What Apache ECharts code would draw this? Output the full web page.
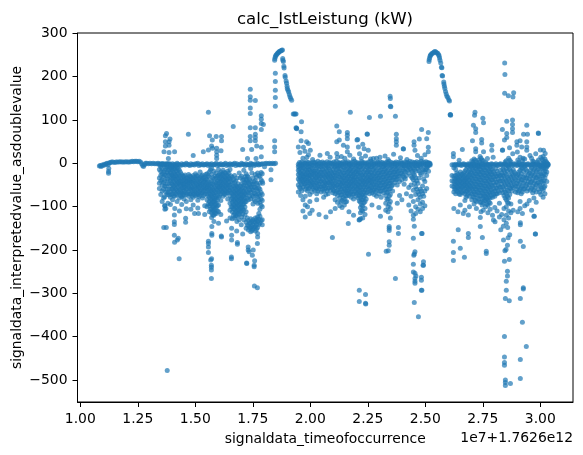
<!DOCTYPE html>
<html>
<head>
<meta charset="utf-8">
<style>html,body{margin:0;padding:0;background:#fff}#chart{width:583px;height:455px}</style>
<script src="https://cdn.jsdelivr.net/npm/echarts@6/dist/echarts.min.js"></script>
</head>
<body>
<div id="chart"></div>
<script>
// Time is in units of 1e7 ms on top of the 1.7626e12 offset; values are kW.
const xTicks = [1.00, 1.25, 1.50, 1.75, 2.00, 2.25, 2.50, 2.75, 3.00];
const yTicks = [-500, -400, -300, -200, -100, 0, 100, 200, 300];

// Idle stretch before the first operating block
const idleStart = [[1.083,-6],[1.087,-5],[1.091,-7],[1.095,-4],[1.100,-5],[1.104,-2],[1.108,-3],[1.113,-1],[1.117,0],[1.121,-3],[1.123,-19],[1.123,-23],[1.124,-12],[1.126,1],[1.130,2],[1.136,3],[1.142,3],[1.149,2],[1.155,3],[1.161,3],[1.168,3],[1.174,4],[1.181,3],[1.187,3],[1.194,3],[1.200,4],[1.207,3],[1.213,3],[1.220,4],[1.226,5],[1.232,4],[1.238,5],[1.244,5],[1.250,4],[1.256,5],[1.262,3],[1.267,-1],[1.271,-5],[1.275,-7],[1.279,-3],[1.283,0],[1.289,0],[1.296,-1],[1.303,0],[1.310,-1],[1.317,0],[1.324,-1],[1.331,-1],[1.338,0],[1.345,-1],[1.352,-2],[1.358,-1],[1.367,-1],[1.377,-2],[1.387,-1]];

// Vertical strips: [time, [values at that time]]
const blockOne = [
[1.344,[-3,-14,-34,-46,-58]],[1.350,[-2,-8,-19,-28,-40,-72]],[1.356,[-1,-12,-24,-38,-50,-64,-88]],
[1.362,[-3,-20,-31,-44,-60,-80]],[1.367,[-4,-16,-27,-41,-53,-77,-98]],[1.372,[-2,-12,-28,-52,-66,-104]],[1.377,[-1,-8,-20,-36,-47,-60,-72]],
[1.381,[-1,-10,-22,-36,-68,-92]],[1.392,[-2,-10,-20,-30,-40,-52,-66,-78,-95]],[1.401,[-1,-8,-16,-27,-36,-48,-58,-70,-84]],
[1.411,[-2,-12,-24,-33,-44,-54,-65,-76,-104]],[1.421,[0,-9,-18,-30,-41,-50,-62,-72,-88]],
[1.431,[-3,-16,-28,-39,-47,-59,-69,-80,-110]],[1.441,[-1,-26,-36,-46,-57,-68,-77,-95]],
[1.451,[-2,-30,-39,-47,-56,-64,-73,-82]],[1.461,[0,-34,-42,-50,-60,-72,-88,-105]],
[1.471,[-3,-26,-36,-44,-54,-65,-76]],[1.481,[-1,-31,-41,-51,-60,-70,-84,-106]],
[1.491,[-2,-28,-38,-47,-58,-68,-78,-96]],[1.501,[-1,-24,-34,-45,-55,-66,-75]],
[1.511,[0,-30,-42,-52,-62,-72,-85,-103]],[1.521,[-2,-20,-33,-44,-53,-64,-74]],
[1.531,[-1,-27,-37,-47,-57,-68,-80]],[1.541,[-3,-31,-40,-50,-60,-71,-98,-118]],
[1.551,[-1,-24,-38,-49,-58,-70,-84,-100]],[1.561,[-2,-20,-32,-48,-58,-68,-78,-88,-98,-112]],
[1.571,[-1,-12,-25,-40,-54,-64,-74,-84,-94,-104,-114,-125]],[1.581,[-3,-18,-36,-50,-62,-72,-82,-90,-100,-110,-120,-134]],
[1.591,[0,-22,-34,-46,-58,-68,-80,-92,-102,-116]],[1.601,[-2,-14,-28,-38,-48,-56,-66,-78,-96,-112,-138]],
[1.611,[-1,-20,-30,-40,-50,-60,-70,-86,-118]],[1.621,[-3,-16,-26,-36,-46,-56,-66,-76]],
[1.631,[0,-22,-33,-43,-53,-63,-72]],[1.641,[-2,-18,-28,-38,-48,-58,-68,-82]],
[1.651,[-1,-14,-36,-50,-62,-74,-92,-108,-126]],[1.661,[-2,-32,-46,-60,-70,-80,-90,-100,-112,-128]],
[1.671,[0,-28,-44,-56,-66,-76,-86,-96,-106,-116,-126]],[1.681,[-1,-34,-52,-62,-72,-82,-92,-102,-112,-122,-134]],
[1.691,[-3,-22,-58,-68,-78,-88,-98,-108,-118,-130]],[1.701,[0,-30,-48,-60,-70,-80,-90,-100,-110,-124]],
[1.711,[-2,-16,-38,-50,-64,-74,-84,-94,-108,-130]],[1.721,[-1,-24,-36,-46,-60,-72,-88,-112,-136,-150]],
[1.731,[-3,-32,-44,-56,-68,-84,-132,-144,-154]],[1.741,[0,-12,-42,-54,-66,-82,-128,-138,-150,-158]],
[1.751,[-2,-34,-48,-62,-76,-94,-130,-142,-152]],[1.761,[-1,-26,-40,-56,-70,-88,-126,-136,-146,-156]],
[1.771,[0,-22,-50,-64,-78,-92,-124,-134,-148]],[1.781,[-2,-30,-46,-60,-74,-90,-106,-122,-138]],
[1.791,[-1,-24,-42,-72,-86,-100,-130,-142]],[1.801,[-1,-8]],[1.808,[0]],[1.815,[-1]],[1.822,[0]],[1.829,[-1,-15,-38]],[1.836,[0]],[1.843,[-1]],[1.849,[0]]
];

// Heavier-populated strips in between, where readings overlap into a solid band
const blockOneDense = [
[1.386,[-4,-15,-27,-46,-59,-73]],[1.396,[-5,-14,-25,-35,-46,-60,-72]],[1.406,[-3,-12,-22,-32,-42,-53,-63,-75]],
[1.416,[-4,-7,-19,-29,-38,-49,-59,-71]],[1.426,[-2,-13,-24,-35,-45,-55,-66]],[1.436,[-5,-21,-33,-43,-52,-63,-74]],
[1.446,[-3,-30,-40,-49,-55,-65,-73]],[1.456,[-4,-27,-37,-47,-56,-67]],[1.466,[-2,-33,-42,-48,-58,-69]],
[1.476,[-5,-29,-39,-47,-58,-71]],[1.486,[-3,-35,-44,-55,-64,-74]],[1.496,[-4,-32,-42,-52,-63,-72]],
[1.506,[-2,-28,-38,-49,-59,-70]],[1.516,[-5,-36,-47,-57,-67,-77]],[1.526,[-3,-29,-39,-49,-59,-69]],
[1.536,[-4,-33,-43,-54,-64,-75]],[1.546,[-2,-26,-36,-45,-55,-65]],[1.556,[-5,-29,-43,-54,-64,-75,-94]],
[1.566,[-3,-15,-44,-52,-63,-73,-83,-93,-106]],[1.576,[-4,-33,-47,-59,-69,-79,-89,-99,-109,-119]],[1.586,[-2,-29,-44,-56,-67,-77,-87,-96,-106,-115]],
[1.596,[-5,-30,-41,-52,-62,-74,-85,-98,-110]],[1.606,[-3,-24,-34,-44,-54,-64,-75]],[1.616,[-4,-25,-35,-45,-55,-65]],
[1.626,[-2,-21,-31,-41,-51,-61,-71]],[1.636,[-5,-28,-38,-48,-58,-67]],[1.646,[-3,-23,-33,-43,-53,-63]],
[1.656,[-4,-29,-42,-56,-68,-83,-100]],[1.666,[-2,-38,-53,-65,-75,-85,-95,-105,-120]],[1.676,[-5,-40,-51,-61,-71,-81,-91,-101,-111,-121]],
[1.686,[-3,-47,-57,-67,-77,-87,-97,-107,-117]],[1.696,[-4,-33,-53,-63,-73,-83,-93,-103,-113]],[1.706,[-2,-39,-54,-65,-75,-85,-95,-105,-117]],
[1.716,[-5,-31,-44,-57,-69,-79,-89,-101,-119]],[1.726,[-3,-29,-41,-53,-66,-80,-126,-143]],[1.736,[-4,-38,-50,-62,-76,-137,-148]],
[1.746,[-2,-22,-48,-60,-74,-134,-146,-155]],[1.756,[-5,-43,-55,-69,-84,-135,-147]],[1.766,[-3,-32,-46,-60,-74,-130,-141,-152]],
[1.776,[-4,-28,-57,-70,-84,-116,-129,-141]],[1.786,[-2,-21,-38,-67,-82,-97,-132]]
];

const blockOneOutliers = [[1.375,69],[1.370,64],[1.390,56],[1.370,50],[1.386,50],[1.370,40],[1.386,42],[1.364,27],[1.386,25],[1.410,27],[1.383,11],[1.470,67],[1.491,18],[1.535,27],[1.557,118],[1.562,64],[1.574,54],[1.591,62],[1.614,62],[1.614,52],[1.571,40],[1.593,35],[1.612,29],[1.593,27],[1.593,19],[1.593,11],[1.557,31],[1.575,35],[1.665,85],[1.706,32],[1.739,171],[1.739,154],[1.739,146],[1.761,145],[1.739,128],[1.739,115],[1.787,110],[1.787,102],[1.787,92],[1.796,90],[1.787,78],[1.739,82],[1.761,82],[1.761,67],[1.761,60],[1.739,62],[1.739,52],[1.761,52],[1.745,32],[1.767,40],[1.787,37],[1.727,11],[1.764,11],[1.787,15],[1.845,52],[1.845,38],[1.845,27],[1.793,-46],[1.363,-148],[1.368,-98],[1.368,-106],
[1.378,-478],[1.374,-148],[1.409,-119],[1.409,-135],[1.409,-141],[1.458,-127],[1.458,-136],[1.409,-166],[1.410,-182],[1.422,-177],[1.426,-173],[1.430,-220],[1.497,-116],[1.514,-116],[1.557,-180],[1.557,-185],[1.557,-193],[1.557,-206],[1.571,-220],[1.567,-223],[1.570,-235],[1.570,-240],[1.570,-246],[1.570,-266],[1.572,-162],[1.572,-166],[1.572,-146],[1.614,-170],[1.613,-168],[1.636,-133],[1.657,-216],[1.657,-220],[1.658,-177],[1.658,-166],[1.658,-150],[1.683,-183],[1.683,-187],[1.680,-156],[1.700,-142],[1.706,-163],[1.723,-230],[1.724,-231],[1.730,-193],[1.730,-200],[1.734,-204],[1.752,-200],[1.748,-212],[1.758,-225],[1.756,-235],[1.756,-239],[1.770,-185],[1.757,-283],[1.770,-287],[1.771,-162],[1.771,-170]];

// First power peak and its decay
const peakOne = [[1.848,208],[1.848,189],[1.848,169],[1.848,152],[1.848,132],[1.845,238],[1.846,242],[1.848,246],[1.850,249],[1.853,251],[1.856,253],[1.859,255],[1.862,256],[1.865,258],[1.869,259],[1.872,260],[1.876,261],[1.879,262],[1.880,242],[1.881,238],[1.883,235],[1.885,224],[1.886,220],[1.890,203],[1.891,199],[1.895,190],[1.897,185],[1.899,178],[1.900,173],[1.903,169],[1.906,165],[1.909,159],[1.912,154],[1.915,150],[1.919,146],[1.926,114],[1.930,114],[1.934,114],[1.938,114],[1.940,81],[1.941,80],[1.938,82]];

const blockTwo = [
[1.948,[-2,-8,-16,-26,-36,-50,-66]],[1.958,[-1,-12,-22,-34,-44,-58,-74]],[1.968,[-3,-10,-24,-32,-42,-54,-84,-110]],
[1.978,[0,-14,-26,-38,-48,-60,-76,-96,-124]],[1.988,[-2,-9,-20,-30,-40,-52,-64,-100]],[1.998,[-1,-16,-28,-36,-46,-56,-72,-88,-116]],
[2.008,[-3,-12,-22,-32,-44,-54,-66,-108]],[2.018,[0,-18,-28,-38,-50,-62]],[2.028,[-2,-10,-24,-34,-46,-58,-70,-84]],
[2.038,[-1,-14,-26,-36,-48,-60,-118]],[2.048,[-2,-8,-20,-30,-42,-54,-66]],[2.058,[0,-16,-28,-40,-52,-64,-78]],
[2.068,[-3,-12,-24,-34,-46,-56,-72,-124]],[2.078,[-1,-10,-22,-32,-44,-58,-70]],[2.088,[0,-18,-30,-40,-50,-62,-112]],
[2.098,[-2,-14,-26,-36,-48,-60,-68]],[2.108,[-1,-8,-22,-34,-46,-56,-70,-84,-104]],[2.118,[-3,-12,-24,-36,-50,-62,-74,-90]],
[2.128,[0,-6,-20,-32,-44,-54,-66,-80,-98]],[2.138,[-2,-16,-28,-38,-48,-60,-72,-86,-102]],[2.148,[-1,-10,-22,-34,-46,-58,-68,-82,-96]],
[2.158,[0,-14,-26,-36,-46,-56,-66,-76,-88]],[2.168,[-2,-8,-18,-30,-42,-52,-64,-74,-112]],[2.178,[-1,-12,-24,-34,-44,-54,-66,-78]],
[2.188,[-3,-16,-26,-36,-46,-58,-70,-82,-120]],[2.198,[0,-10,-20,-32,-44,-54,-66,-76]],[2.208,[-2,-14,-24,-36,-48,-58,-68,-80]],
[2.218,[-1,-8,-22,-34,-44,-56,-68,-78,-90,-102,-114,-128]],[2.228,[0,-12,-26,-38,-48,-60,-72,-84,-98,-110,-126]],[2.238,[-2,-16,-28,-40,-50,-62,-74,-88,-104,-118]],
[2.248,[-1,-10,-20,-32,-42,-54,-66]],[2.258,[-3,-14,-26,-36,-46,-58,-70]],[2.268,[0,-8,-22,-34,-44,-56,-68,-96]],
[2.278,[-2,-12,-24,-36,-48,-60,-72]],[2.288,[-1,-16,-28,-38,-50,-62,-76]],[2.298,[0,-10,-22,-34,-46,-58,-70,-102]],
[2.308,[-2,-14,-26,-38,-50,-64,-78]],[2.318,[-1,-8,-20,-32,-44,-56,-68]],[2.328,[-3,-12,-24,-36,-48,-60,-74,-92,-108]],
[2.338,[0,-16,-28,-40,-52,-66,-82,-100,-112]],[2.348,[-2,-10,-22,-34,-46,-58,-72,-88,-104,-126]],[2.358,[-1,-14,-26,-38,-50,-64]],
[2.368,[0,-8,-20,-32,-44]],[2.378,[-2,-12,-24,-36,-50,-92]],[2.388,[-1,-16,-30,-42,-74]],
[2.398,[0,-10,-24,-38,-84]],[2.408,[-2,-6,-18,-32,-48]],[2.418,[-1,-12,-28,-70]],[2.428,[0,-8,-22,-56,-96]],
[2.438,[-2,-14,-30,-50,-76,-110]],[2.448,[-1,-10,-24,-38,-62,-88,-120]],[2.458,[0,-6,-18,-34,-54,-72,-100,-116]],
[2.468,[-2,-12,-46,-66,-84,-106]],[2.478,[-1,-8,-22,-60,-78,-94,-112]],[2.488,[0,-14,-52,-70,-90,-104]],
[2.498,[-2,-20,-42,-64,-98]],[2.506,[-1,-10,-28,-58]],[2.514,[0,-5,-18]],[2.521,[-1,-4]]
];

const blockTwoDense = [
[1.953,[2,-5,-13,-21,-31,-41,-55]],[1.963,[3,-6,-17,-28,-38,-49,-63]],[1.973,[1,-7,-19,-29,-37,-47]],
[1.983,[4,-4,-16,-25,-34,-44,-55]],[1.993,[2,-7,-14,-25,-35,-45,-59]],[2.003,[1,-8,-19,-27,-41,-50]],
[2.013,[3,-6,-17,-26,-37,-47,-58]],[2.023,[2,-5,-15,-23,-33,-44,-56]],[2.033,[5,-6,-19,-29,-41,-52,-64]],
[2.043,[2,-7,-20,-31,-42,-54]],[2.053,[3,-5,-14,-25,-36,-47,-59]],[2.063,[1,-6,-20,-31,-43,-51,-60]],
[2.073,[4,-7,-18,-28,-39,-49,-63]],[2.083,[2,-5,-14,-26,-36,-45,-56]],[2.093,[1,-8,-22,-33,-44,-55]],
[2.103,[3,-6,-19,-30,-41,-52,-63]],[2.113,[5,-5,-15,-28,-40,-51,-65]],[2.123,[2,-7,-18,-30,-43,-56,-68]],
[2.133,[1,-4,-13,-26,-38,-49,-60,-73,-89]],[2.143,[3,-7,-22,-33,-43,-53,-65,-79]],[2.153,[2,-5,-16,-28,-40,-52,-63,-75,-89]],
[2.163,[4,-6,-20,-31,-41,-51,-61,-71]],[2.173,[1,-4,-14,-24,-36,-47,-58,-69]],[2.183,[3,-7,-18,-29,-39,-49,-60,-72]],
[2.193,[5,-6,-21,-31,-41,-52,-64]],[2.203,[2,-5,-15,-26,-38,-49,-60,-71]],[2.213,[1,-8,-19,-30,-42,-53,-63,-74,-87]],
[2.223,[4,-4,-15,-28,-39,-50,-62,-73,-84,-96,-108]],[2.233,[2,-6,-20,-32,-43,-54,-66,-78,-91]],[2.243,[1,-7,-22,-34,-45,-56,-68,-82]],
[2.253,[3,-5,-15,-26,-37,-48,-60]],[2.263,[5,-7,-20,-31,-41,-52,-63]],[2.273,[2,-4,-15,-28,-39,-50,-62]],
[2.283,[1,-6,-18,-30,-42,-54,-66]],[2.293,[3,-5,-22,-33,-44,-56]],[2.303,[4,-4,-16,-28,-40,-52,-64]],
[2.313,[2,-7,-20,-32,-44,-57]],[2.323,[1,-4,-14,-26,-38,-50,-62]],[2.333,[3,-6,-18,-30,-42,-54,-67,-83]],
[2.343,[5,-5,-22,-34,-46,-60,-76,-94]],[2.353,[2,-6,-16,-28,-40,-52]],[2.363,[1,-5,-20,-32]],
[2.373,[3,-4,-14,-26,-38]],[2.383,[2,-6,-18,-30]],[2.393,[4,-5,-22]],
[2.403,[1,-4,-14,-28]],[2.413,[3,-6,-20,-36]],[2.423,[2,-5,-16]],[2.433,[5,-4,-12]],
[2.443,[3,-5,-19,-34]],[2.453,[2,-4,-14,-28,-46]],[2.463,[4,-6,-40,-60]],
[2.473,[2,-5,-17,-34,-72]],[2.483,[5,-4,-26,-64]],[2.493,[3,-5,-16,-36,-76]],[2.503,[4,-3,-14]],[2.510,[2,-3,-8]],[2.518,[1,-2]]
];

const blockTwoOutliers = [[1.962,96],[1.960,73],[1.960,52],[1.984,50],[1.992,46],[1.948,38],[1.970,37],[2.000,30],[1.992,20],[1.968,12],[1.955,25],[1.977,28],[1.985,14],[2.010,9],[2.042,19],[2.074,23],[2.086,14],[2.115,86],[2.126,73],[2.161,71],[2.161,65],[2.161,57],[2.126,54],[2.115,50],[2.174,118],[2.257,106],[2.305,109],[2.348,132],[2.350,131],[2.370,109],[2.248,67],[2.247,68],[2.203,54],[2.206,55],[2.228,44],[2.234,34],[2.252,30],[2.144,42],[2.161,38],[2.161,27],[2.209,38],[2.405,33],[2.404,34],[2.374,67],[2.374,57],[2.374,50],[2.374,42],[2.451,50],[2.451,42],[2.474,56],[2.484,78],[2.513,71],[2.506,57],[2.513,37],[2.513,27],[2.455,30],[2.115,23],[2.274,11],[2.303,14],[2.325,17],[2.348,150],[2.347,155],[2.118,14],[2.135,16],[2.150,12],[2.172,19],[2.188,10],[2.214,22],[2.222,12],[2.240,17],[2.262,10],[2.288,12],[2.338,9],[2.362,21],[2.392,13],[2.420,9],[2.466,18],[2.482,12],[2.498,20],
[2.096,-171],[2.165,-139],[2.214,-130],[2.212,-131],[2.253,-210],[2.213,-293],[2.240,-303],[2.213,-319],[2.240,-323],[2.241,-325],[2.305,-122],[2.343,-146],[2.343,-150],[2.343,-155],[2.383,-148],[2.383,-162],[2.343,-181],[2.343,-189],[2.339,-202],[2.330,-203],[2.370,-266],[2.448,-129],[2.452,-145],[2.448,-173],[2.484,-162],[2.486,-162],[2.455,-204],[2.450,-212],[2.452,-209],[2.448,-233],[2.492,-227],[2.492,-235],[2.490,-235],[2.448,-251],[2.455,-254],[2.459,-260],[2.455,-266],[2.455,-272],[2.455,-277],[2.483,-263],[2.483,-270],[2.483,-293],[2.485,-293],[2.452,-321],[2.470,-354]];

// Second power peak and its decay
const peakTwo = [[2.516,235],[2.517,240],[2.519,244],[2.521,248],[2.523,250],[2.526,252],[2.530,254],[2.534,255],[2.538,257],[2.542,258],[2.546,257],[2.550,255],[2.554,254],[2.558,251],[2.560,248],[2.562,243],[2.564,238],[2.567,232],[2.570,222],[2.572,221],[2.573,203],[2.575,202],[2.580,188],[2.581,183],[2.583,178],[2.585,173],[2.588,166],[2.591,160],[2.594,155],[2.598,152],[2.602,147],[2.605,144],[2.608,112],[2.610,111],[2.609,113]];

const blockThree = [
[2.616,[-3,-28,-40,-52]],[2.624,[-3,-10,-30,-42,-54,-66,-104]],[2.632,[-2,-14,-28,-38,-48,-58,-70]],[2.642,[-4,-26,-36,-46,-56,-66,-112]],
[2.652,[-3,-20,-30,-40,-50,-60,-72,-96]],[2.662,[-2,-26,-36,-46,-56,-68]],[2.672,[-3,-18,-28,-38,-48,-58,-70,-86,-108]],
[2.682,[-4,-8,-24,-34,-44,-54,-64,-74]],[2.692,[-2,-14,-26,-38,-50,-60,-76,-100]],[2.702,[-3,6,-10,-22,-34,-46,-58,-70,-84]],
[2.712,[-2,10,-6,-18,-30,-42,-54,-66,-78,-94]],[2.722,[-3,4,-12,-24,-36,-48,-60,-72,-88,-104]],[2.732,[-4,8,-8,-20,-32,-44,-56,-68,-82]],
[2.742,[-2,12,-14,-26,-38,-50,-62,-74,-90,-112]],[2.752,[-3,6,-10,-22,-34,-46,-58,-70,-80,-92,-108]],[2.762,[-4,2,-16,-28,-40,-52,-64,-76,-86,-100]],
[2.772,[-2,-12,-24,-36,-48,-60,-72,-84,-96,-114]],[2.782,[-3,-8,-20,-32,-44,-56,-68,-80,-92,-106]],[2.792,[-2,-14,-26,-38,-52,-66,-78,-120]],
[2.802,[-3,-24,-36,-50,-64,-76,-102]],[2.812,[-4,-18,-30,-44,-58,-70,-110]],[2.822,[-2,-28,-40,-54,-68,-92,-124]],
[2.832,[-3,-22,-34,-48,-62,-118]],[2.842,[-2,-16,-30,-44,-60,-74,-104,-130]],[2.852,[-4,6,-12,-26,-40,-54,-70,-84,-100,-120,-138]],
[2.862,[-3,12,-8,-36,-50,-64,-80,-92,-110,-126]],[2.872,[-2,4,-18,-32,-46,-58,-94,-114]],[2.882,[-3,-14,-28,-42,-56,-108]],
[2.892,[-2,-24,-38,-52,-66]],[2.902,[-4,8,-26,-40,-54,-68,-112]],[2.912,[-3,14,-16,-30,-44,-60,-88,-104]],
[2.922,[-2,6,-12,-38,-52,-66,-116]],[2.932,[-3,10,-8,-28,-42,-58,-98]],[2.942,[-2,-18,-34,-48,-64,-94]],
[2.952,[-4,-22,-36,-50,-86]],[2.962,[-3,12,-10,-26,-42,-58,-108]],[2.972,[-2,4,-14,-30,-46,-62,-80,-122]],
[2.982,[-3,-20,-34,-50,-66,-90]],[2.992,[-2,8,-12,-28,-44,-60]],[3.002,[-4,14,-8,-24,-38,-54,-72]],
[3.012,[-3,16,6,-14,-30,-46,-62,-78]],[3.020,[-2,10,-6,-18,-34,-52,-70]],[3.028,[-3,2,-8,-20,-42]],[3.034,[-2,-4]]
];

const blockThreeDense = [
[2.628,[-5,-35,-47,-60]],[2.637,[-4,-22,-33,-43,-53,-63]],[2.647,[-1,-31,-41,-51,-61,-71]],
[2.657,[-5,-25,-35,-45,-55,-66]],[2.667,[-1,-22,-32,-42,-52,-63]],[2.677,[-4,-14,-33,-43,-53,-65,-78]],
[2.687,[-1,-19,-29,-39,-49,-59,-69]],[2.697,[-5,-7,-20,-32,-44,-55,-68]],[2.707,[-1,3,-15,-28,-40,-52,-64,-77]],
[2.717,[-5,7,-12,-24,-36,-48,-60,-72,-86]],[2.727,[-1,-7,-18,-30,-42,-54,-66,-80]],[2.737,[-5,3,-14,-26,-38,-50,-62,-75,-90]],
[2.747,[-1,8,-8,-20,-32,-44,-56,-68,-82,-96]],[2.757,[-5,-16,-28,-40,-52,-64,-75,-86]],[2.767,[-1,-10,-22,-34,-46,-58,-70,-81,-94]],
[2.777,[-5,-18,-30,-42,-54,-66,-78,-90]],[2.787,[-1,-14,-26,-38,-50,-62,-74]],[2.797,[-5,-20,-32,-45,-59,-72]],
[2.807,[-1,-12,-30,-43,-57,-70]],[2.817,[-5,-24,-36,-50,-64]],[2.827,[-1,-16,-28,-41,-55]],
[2.837,[-5,-13,-27,-40,-54,-68]],[2.847,[-1,3,-22,-36,-50,-66,-80]],[2.857,[-5,-18,-32,-46,-62,-76,-90]],
[2.867,[-1,7,-14,-28,-42,-56,-72]],[2.877,[-5,-24,-38,-52,-64]],[2.887,[-1,-20,-34,-48]],
[2.897,[-5,-30,-46,-60]],[2.907,[-1,3,-20,-34,-48,-64]],[2.917,[-5,-10,-24,-38,-56,-70]],
[2.927,[-1,-18,-32,-46,-60]],[2.937,[-5,-14,-34,-52]],[2.947,[-1,-26,-42,-58]],
[2.957,[-5,-16,-30,-44,-62]],[2.967,[-1,5,-20,-36,-52,-68]],[2.977,[-5,-10,-26,-40,-56]],
[2.987,[-1,3,-16,-32,-46]],[2.997,[-5,-6,-20,-36,-50,-66]],[3.007,[-1,9,-12,-28,-42,-58]],
[3.016,[-5,1,-10,-24,-40,-56]],[3.024,[-1,5,-12,-26]],[3.031,[-5,-1]]
];

const blockThreeOutliers = [[2.714,111],[2.753,94],[2.854,97],[2.879,100],[2.879,90],[2.879,80],[2.879,71],[2.854,69],[2.835,78],[2.854,60],[2.844,54],[2.941,88],[2.927,67],[2.944,67],[2.992,69],[2.991,70],[2.709,88],[2.719,80],[2.719,71],[2.705,52],[2.745,55],[2.745,47],[2.789,42],[2.789,30],[2.912,52],[2.898,50],[2.898,42],[2.941,50],[2.919,38],[2.941,38],[2.941,30],[2.835,30],[2.836,31],[2.866,36],[3.014,30],[3.021,23],[2.661,32],[2.622,23],[2.622,15],[2.647,7],[2.719,34],[2.719,27],[2.753,27],[2.845,232],[2.846,205],[2.845,162],[2.861,156],[2.884,163],[2.881,153],[2.716,118],[2.750,104],[2.738,16],[2.770,11],[2.795,14],[2.880,22],[2.900,26],[2.925,12],[2.955,18],[2.980,22],[3.000,31],
[2.622,-180],[2.622,-206],[2.622,-224],[2.643,-153],[2.652,-196],[2.670,-217],[2.687,-162],[2.687,-171],[2.748,-171],[2.765,-203],[2.765,-208],[2.665,-116],[2.687,-119],[2.739,-125],[2.739,-146],[2.796,-131],[2.803,-135],[2.828,-153],[2.839,-145],[2.858,-148],[2.840,-177],[2.857,-189],[2.851,-199],[2.846,-202],[2.844,-226],[2.865,-222],[2.857,-249],[2.857,-260],[2.852,-272],[2.852,-293],[2.848,-312],[2.865,-317],[2.844,-400],[2.844,-447],[2.844,-460],[2.844,-466],[2.848,-500],[2.848,-506],[2.848,-513],[2.870,-508],[2.913,-497],[2.913,-453],[2.939,-423],[2.922,-367],[2.913,-312],[2.926,-287],[2.926,-290],[2.913,-180],[2.926,-192],[2.913,-137],[2.913,-142],[2.978,-163],[2.979,-163],[2.974,-122],[2.867,-165],[2.860,-172]];

const strips = s => s.flatMap(([t, vs]) => vs.map(v => [t, v]));
const points = [].concat(
  idleStart, strips(blockOne), strips(blockOneDense), blockOneOutliers, peakOne,
  strips(blockTwo), strips(blockTwoDense), blockTwoOutliers, peakTwo,
  strips(blockThree), strips(blockThreeDense), blockThreeOutliers
);

const font = 'DejaVu Sans';
const minus = v => String(v).replace('-', '\u2212');
const axisBase = {
  type: 'value',
  nameLocation: 'middle',
  nameMoveOverlap: false,
  nameTextStyle: { color: '#000', fontFamily: font, fontSize: 13.9 },
  splitLine: { show: false },
  axisLine: { onZero: false, lineStyle: { color: '#000', width: 1 } }
};

const chart = echarts.init(document.getElementById('chart'), null, { renderer: 'canvas' });
chart.setOption({
  animation: false,
  backgroundColor: '#fff',
  title: [{
    text: 'calc_IstLeistung (kW)', left: 325, top: 11, padding: 0, textAlign: 'center',
    textStyle: { color: '#000', fontFamily: font, fontSize: 16.6, fontWeight: 'normal' }
  }, {
    text: '1e7+1.7626e12', right: 10, top: 431, padding: 0,
    textStyle: { color: '#000', fontFamily: font, fontSize: 13.9, fontWeight: 'normal' }
  }],
  grid: { left: 77.5, right: 10, top: 33, bottom: 53, outerBoundsMode: 'none', show: true, borderColor: '#000', borderWidth: 1 },
  xAxis: Object.assign({}, axisBase, {
    min: 0.988, max: 3.142,
    name: 'signaldata_timeofoccurrence', nameGap: 30,
    axisTick: { customValues: xTicks, length: 5, lineStyle: { color: '#000' } },
    axisLabel: { customValues: xTicks, color: '#000', fontFamily: font, fontSize: 13.9, margin: 10, formatter: v => v.toFixed(2) }
  }),
  yAxis: Object.assign({}, axisBase, {
    min: -551, max: 301,
    name: 'signaldata_interpretedvalue_asdoublevalue', nameGap: 53,
    axisTick: { customValues: yTicks, length: 5, lineStyle: { color: '#000' } },
    axisLabel: { customValues: yTicks, color: '#000', fontFamily: font, fontSize: 13.9, margin: 10, formatter: minus }
  }),
  series: [{
    type: 'scatter',
    data: points,
    symbolSize: 5,
    itemStyle: { color: '#1f77b4', opacity: 0.7 }
  }]
});
</script>
</body>
</html>
